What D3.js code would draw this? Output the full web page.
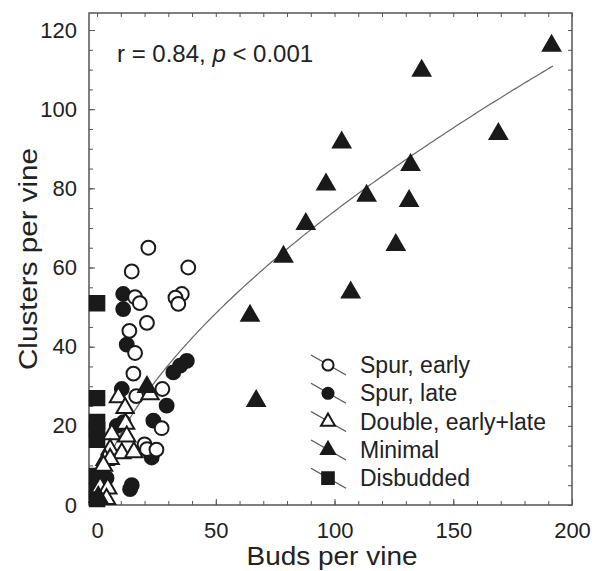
<!DOCTYPE html>
<html><head><meta charset="utf-8">
<script src="https://cdn.jsdelivr.net/npm/d3@7"></script>
<style>body{margin:0;background:#fff}svg{display:block;font-family:Arial,"Liberation Sans",sans-serif}</style>
</head><body><svg id="c" width="595" height="571"></svg>
<script>
const spurEarly = [[21.6,65],[14.6,59],[38.4,60],[16,52.5],[18,51],[35.7,53.3],[33,52.4],[34.2,50.8],[21,46],[13.6,44],[16,38.4],[15.3,33.2],[27.5,29.3],[16.5,27.5],[27.2,19.4],[20,15.3],[21,14.1],[25,14]];
const spurLate = [[11,53.3],[11,49.5],[12.5,40.5],[10.4,29.3],[32.1,33.5],[35,35.2],[37.8,36.4],[29.3,25.1],[23.7,21.3],[8.3,20],[11.1,20.9],[22.3,13.3],[23,12],[13.9,4],[14.6,5],[4,6.8]];
const doubleEL = [[9,27.2],[11.8,24.5],[22.3,28],[12,20.5],[6.2,17.9],[12.5,17.3],[5.5,14],[10.4,13.1],[15.5,13.3],[3.4,11.4],[5.5,11.6],[2.7,9.9],[1.3,4.5],[4.5,4.2],[4,1.5]];
const minimal = [[191.4,116],[136.7,109.7],[169,93.7],[103,91.6],[132,85.9],[96.4,81],[113.5,78.1],[131.4,76.8],[87.9,71],[125.8,65.7],[78.5,62.7],[106.8,53.7],[64.4,47.8],[67,26.3],[21,29.8],[0.5,2]];
const disbudded = [[0,51],[0,27],[0,21],[0,19],[0,16.5],[0,7.3],[0,3.5],[0,1.5]];
const seriesNames = ["Spur, early","Spur, late","Double, early+late","Minimal","Disbudded"];
const fitA = 4.35, fitB = 0.616, fitRange = [1, 192];
const xTicks = [0,50,100,150,200];
const yTicks = [0,20,40,60,80,100,120];

const svg = d3.select("#c");
const L=89, R=572, T=13, B=505;
const x = d3.scaleLinear().domain([-3.4,200]).range([L,R]);
const y = d3.scaleLinear().domain([0,124.3]).range([B,T]);
const ink="#1a1a1a", frame="#555", txt="#222";

svg.append("rect").attr("x",L).attr("y",T).attr("width",R-L).attr("height",B-T)
  .attr("fill","none").attr("stroke",frame).attr("stroke-width",1.5);

const minorX = d3.range(0,201,10), minorY = d3.range(0,125,5);
function ax(gen,tr){ return svg.append("g").attr("transform",tr).call(gen).call(g=>g.select(".domain").remove()).call(g=>g.selectAll("line").attr("stroke",frame)); }
ax(d3.axisBottom(x).tickValues(minorX).tickSize(-4).tickFormat(""),`translate(0,${B})`);
ax(d3.axisBottom(x).tickValues(xTicks).tickSize(-6).tickPadding(17).tickFormat(d3.format("d")),`translate(0,${B})`)
  .selectAll("text").attr("font-size",22).attr("fill",txt).attr("font-family","Arial, Liberation Sans");
ax(d3.axisTop(x).tickValues(minorX).tickSize(-4).tickFormat(""),`translate(0,${T})`);
ax(d3.axisLeft(y).tickValues(minorY).tickSize(-4).tickFormat(""),`translate(${L},0)`);
ax(d3.axisLeft(y).tickValues(yTicks).tickSize(-6).tickPadding(12).tickFormat(d3.format("d")),`translate(${L},0)`)
  .selectAll("text").attr("font-size",22).attr("fill",txt).attr("font-family","Arial, Liberation Sans");
ax(d3.axisRight(y).tickValues(minorY).tickSize(-4).tickFormat(""),`translate(${R},0)`);

svg.append("text").attr("x",332).attr("y",565).attr("text-anchor","middle").attr("font-size",25).attr("fill",txt)
  .attr("textLength",171).attr("lengthAdjust","spacingAndGlyphs").text("Buds per vine");
svg.append("text").attr("transform",`translate(37,259) rotate(-90)`).attr("text-anchor","middle").attr("font-size",25).attr("fill",txt)
  .attr("textLength",222).attr("lengthAdjust","spacingAndGlyphs").text("Clusters per vine");
const ann = svg.append("text").attr("x",117).attr("y",62).attr("font-size",24).attr("fill",txt);
ann.append("tspan").text("r = 0.84, ");
ann.append("tspan").attr("font-style","italic").text("p");
ann.append("tspan").text(" < 0.001");

const fitPts = d3.range(fitRange[0], fitRange[1]+0.01, 1).map(v=>[v, fitA*Math.pow(v,fitB)]);
svg.append("path").datum(fitPts).attr("fill","none").attr("stroke","#666").attr("stroke-width",1.2)
  .attr("d", d3.line().x(d=>x(d[0])).y(d=>y(d[1])));

const styles = {
  "Spur, early":{sym:d3.symbolCircle,size:150,fill:"#fff"},
  "Spur, late":{sym:d3.symbolCircle,size:150,fill:ink},
  "Double, early+late":{sym:d3.symbolTriangle,size:130,fill:"#fff"},
  "Minimal":{sym:d3.symbolTriangle,size:130,fill:ink},
  "Disbudded":{sym:d3.symbolSquare,size:210,fill:ink}
};
const dataBy = {"Spur, early":spurEarly,"Spur, late":spurLate,"Double, early+late":doubleEL,"Minimal":minimal,"Disbudded":disbudded};
["Disbudded","Spur, late","Spur, early","Double, early+late","Minimal"].forEach(n=>{
  const s = styles[n];
  svg.append("g").selectAll("path").data(dataBy[n]).join("path")
    .attr("transform",d=>`translate(${x(d[0])},${y(d[1])})`)
    .attr("d", d3.symbol(s.sym, s.size))
    .attr("fill", s.fill).attr("stroke", ink).attr("stroke-width", 2);
});

const lg = svg.append("g");
seriesNames.forEach((n,i)=>{
  const cy = 365 + i*28.3, cx = 328;
  const s = styles[n];
  lg.append("line").attr("x1",cx-17).attr("y1",cy-10).attr("x2",cx+18).attr("y2",cy+10).attr("stroke","#555").attr("stroke-width",1.2);
  lg.append("path").attr("transform",`translate(${cx},${cy})`).attr("d",d3.symbol(s.sym, s.size*0.65))
    .attr("fill",s.fill).attr("stroke",ink).attr("stroke-width",2);
  lg.append("text").attr("x",360).attr("y",cy+8).attr("font-size",23).attr("fill",txt).text(n);
});
</script></body></html>
